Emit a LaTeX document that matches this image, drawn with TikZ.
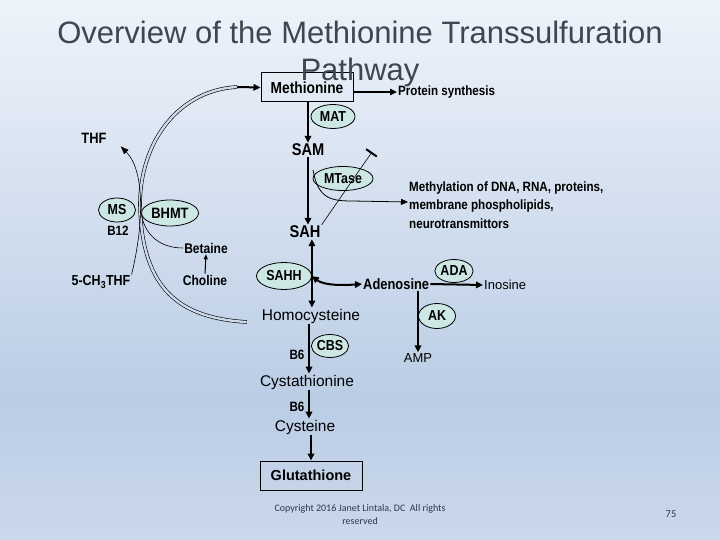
\documentclass[tikz,border=0pt]{standalone}
\usepackage{fontspec}
\setmainfont{Liberation Sans}
\newfontfamily\narrowfont[FakeStretch=0.86]{Liberation Sans}
\newfontfamily\notefont{Carlito}
\usepackage{tikz}
\usetikzlibrary{arrows.meta,shapes.geometric,positioning}
\definecolor{SlideTop}{RGB}{238,243,250}
\definecolor{SlideMid}{RGB}{186,205,229}
\definecolor{SlideLow}{RGB}{203,216,235}
\definecolor{TitleGray}{RGB}{62,70,84}
\definecolor{EnzFill}{RGB}{205,232,228}
\definecolor{NoteBlue}{RGB}{45,55,85}
\tikzset{
  lbl/.style={font=\narrowfont\bfseries\fontsize{13.5}{15}\selectfont,inner sep=1pt},
  big/.style={font=\narrowfont\bfseries\fontsize{17}{19}\selectfont,inner sep=1pt},
  plain/.style={font=\fontsize{15.5}{18}\selectfont,inner sep=1pt},
  light/.style={font=\fontsize{13}{15}\selectfont,inner sep=1pt},
  enz/.style={ellipse,draw,line width=0.8pt,fill=EnzFill,inner sep=0pt,font=\narrowfont\bfseries\fontsize{14.5}{16}\selectfont},
  arr/.style={-{Triangle[length=7pt,width=6.5pt]},line width=2pt},
  tharr/.style={-{Triangle[length=7pt,width=6pt]},line width=0.8pt},
  fine/.style={line width=0.6pt},
  twin/.style={double=SlideTop!35!SlideMid,double distance=2.4pt,line width=0.6pt},
}
\begin{document}
\begin{tikzpicture}[x=1pt,y=-1pt]
  % slide background
  \shade[top color=SlideTop,bottom color=SlideMid] (0,0) rectangle (720,401);
  \shade[top color=SlideMid,bottom color=SlideLow] (0,400) rectangle (720,540);
  \useasboundingbox (0,0) rectangle (720,540);

  % main chain
  \node[big,font=\narrowfont\bfseries\fontsize{16}{18}\selectfont,draw,line width=1pt,minimum width=92pt,minimum height=29pt] (met) at (307,87.5) {Methionine};
  \node[lbl,anchor=west] (prot) at (397,92) {Protein synthesis};
  \node[enz,minimum width=44pt,minimum height=24pt] (mat) at (333,116.5) {MAT};
  \node[big] (sam) at (308,150) {SAM};
  \node[enz,minimum width=60pt,minimum height=24pt] (mtase) at (343,178.5) {MTase};
  \node[lbl,anchor=west,align=left,font=\narrowfont\bfseries\fontsize{13.5}{18.5}\selectfont] (methyl) at (408,205)
    {Methylation of DNA, RNA, proteins,\\membrane phospholipids,\\neurotransmittors};
  \node[big] (sah) at (305,232) {SAH};
  \node[enz,minimum width=55pt,minimum height=27pt] (sahh) at (284,276) {SAHH};
  \node[big,font=\narrowfont\bfseries\fontsize{15}{17}\selectfont,anchor=west] (ado) at (362,284) {Adenosine};
  \node[enz,minimum width=36pt,minimum height=23pt] (ada) at (454,271) {ADA};
  \node[light,anchor=west] (ino) at (483,285) {Inosine};
  \node[enz,minimum width=37pt,minimum height=25pt] (ak) at (437,316) {AK};
  \node[light] (amp) at (418,358) {AMP};
  \node[plain] (hcy) at (311,316) {Homocysteine};
  \node[enz,minimum width=37pt,minimum height=23pt] (cbs) at (330,346) {CBS};
  \node[lbl] (b6a) at (297,355) {B6};
  \node[plain] (cysta) at (307,382) {Cystathionine};
  \node[lbl] (b6b) at (297,407) {B6};
  \node[plain] (cys) at (305,427) {Cysteine};
  \node[plain,font=\bfseries\fontsize{14.5}{17}\selectfont,draw,line width=1pt,minimum width=102pt,minimum height=29pt] (gsh) at (311,475.5) {Glutathione};

  % folate / betaine side
  \node[big,font=\narrowfont\bfseries\fontsize{15}{17}\selectfont] (thf) at (94,138) {THF};
  \node[enz,minimum width=37pt,minimum height=24pt] (ms) at (117,210) {MS};
  \node[enz,minimum width=57pt,minimum height=26pt,font=\narrowfont\bfseries\fontsize{15}{17}\selectfont] (bhmt) at (170,213) {BHMT};
  \node[lbl] (b12) at (118,231) {B12};
  \node[lbl,font=\narrowfont\bfseries\fontsize{14.5}{16}\selectfont] (mthf) at (101,282) {5-CH\textsubscript{3}THF};
  \node[lbl,font=\narrowfont\bfseries\fontsize{14}{16}\selectfont] (bet) at (206,248) {Betaine};
  \node[lbl,font=\narrowfont\bfseries\fontsize{14}{16}\selectfont] (cho) at (205,280) {Choline};

  \coordinate (metin) at (237,87);
  \coordinate (mtin) at (313,170);
  \coordinate (inhtip) at (372,152);

  % connectors
  \draw[arr,line width=1.4pt] (met.east |- prot.west) -- (prot.west);
  \draw[arr] (met.south -| sam) -- (sam.north);
  \draw[arr] (sam.south) -- (sam.south |- sah.north);
  \draw[tharr] (mtin) .. controls (318,198) and (330,201) .. (352,201) -- ([yshift=3pt]methyl.west);
  \draw[fine,-{Bar[width=13pt,line width=2pt]}] (sah.north east) -- (inhtip);
  \draw[arr,{Triangle[length=7pt,width=6.5pt]}-{Triangle[length=7pt,width=6.5pt]}] (sah.south -| sahh.east) -- (hcy.north -| sahh.east);
  \draw[arr,{Triangle[length=7pt,width=6.5pt]}-{Triangle[length=7pt,width=6.5pt]}] (sahh.east) .. controls (322,284) and (335,286) .. (ado.west);
  \draw[arr] (ado.east) -- (ino.west);
  \draw[arr] (amp |- ado.south) -- (amp.north);
  \draw[arr] (hcy.south -| 309,0) -- (cysta.north -| 309,0);
  \draw[arr] (cysta.south -| 309,0) -- (cys.north -| 309,0);
  \draw[arr] (cys.south -| gsh) -- (gsh.north);

  \draw[twin] ([xshift=-14pt,yshift=-6pt]hcy.west) .. controls (180,318) and (142,290) .. (140,205)
    .. controls (140,140) and (180,90) .. (metin);
  \draw[arr] (metin) -- (met.west);
  \draw[fine,-{Triangle[length=8pt,width=6pt]}] (mthf.north east) .. controls (143,228) and (146,172) .. ([xshift=13pt,yshift=-2pt]thf.south east);
  \draw[fine] (bet.west) .. controls (160,248) and (144,235) .. (141,212);
  \draw[tharr,line width=1pt,-{Triangle[length=5pt,width=4pt]}] (cho.north) -- (bet.south);

  % title and footer
  \node[font=\fontsize{31}{37}\selectfont,text=TitleGray,align=center] (title) at (360,54) {Overview of the Methionine Transsulfuration\\Pathway};
  \node[font=\notefont\fontsize{10}{13}\selectfont,text=NoteBlue,align=center] (copy) at (360,515) {Copyright 2016 Janet Lintala, DC\ \ All rights\\reserved};
  \node[font=\notefont\fontsize{10.5}{12}\selectfont,text=NoteBlue] (pagenum) at (671,514) {75};
\end{tikzpicture}
\end{document}
